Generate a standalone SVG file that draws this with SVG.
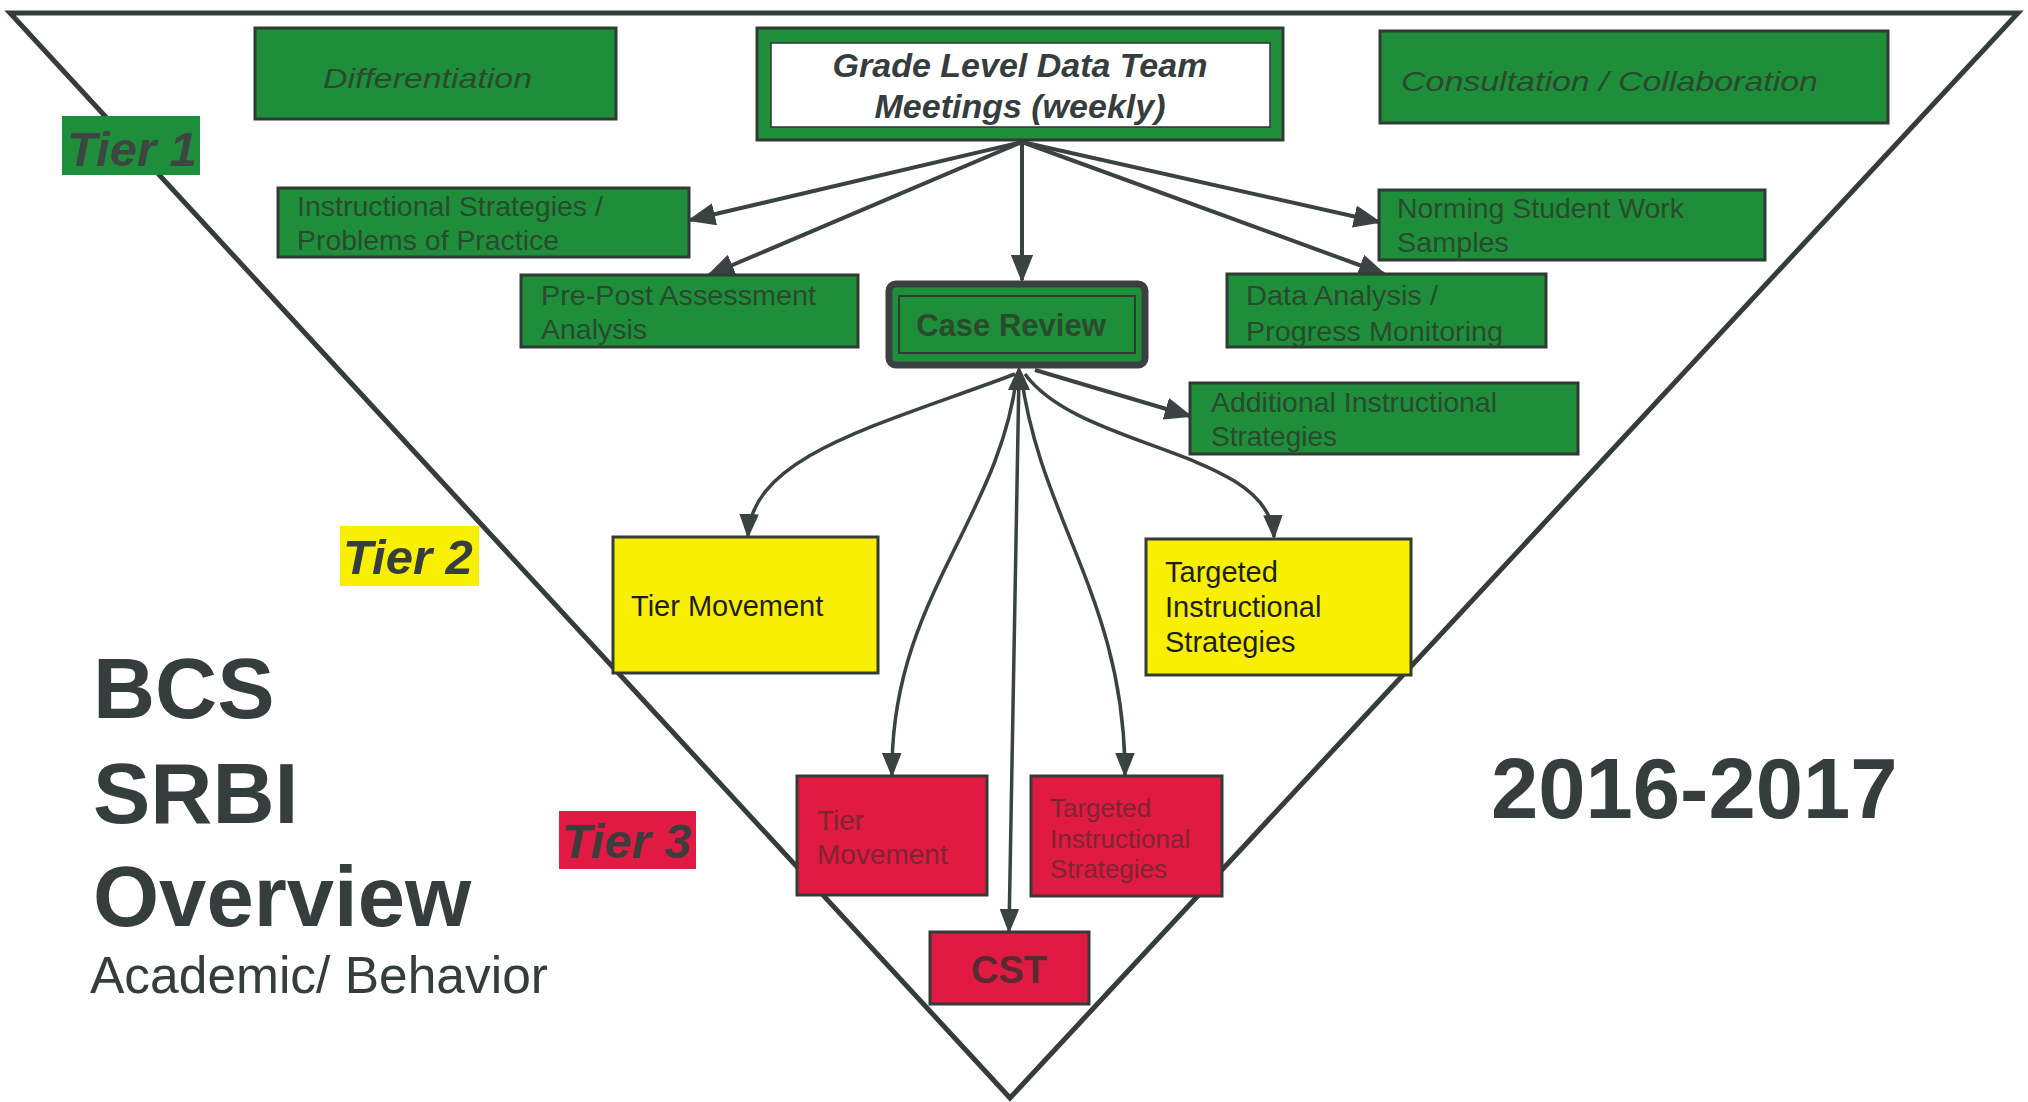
<svg xmlns="http://www.w3.org/2000/svg" width="2028" height="1102" viewBox="0 0 2028 1102">
<defs>
<style>
text{font-family:"Liberation Sans",Arial,sans-serif}
.g{fill:#1f8e3b;stroke:#2f3b33;stroke-width:3}
.y{fill:#f8f000;stroke:#353b38;stroke-width:3}
.r{fill:#e01a42;stroke:#353b38;stroke-width:3}
.gt{fill:#2a4a2e;font-size:28.5px}
.it{font-style:italic}
.dk{fill:#353d3d}
.yt{fill:#1e1e1e;font-size:29px}
.rt{fill:#7e2530}
.lab{font-size:49px;font-weight:bold;font-style:italic}
.con{fill:none;stroke:#3a4242;stroke-width:4;marker-end:url(#ah)}
.cur{fill:none;stroke:#3a4242;stroke-width:3.5;marker-end:url(#ah)}
</style>
<marker id="ah" viewBox="0 0 10 8" refX="9" refY="4" markerWidth="7" markerHeight="5.6" orient="auto" markerUnits="strokeWidth">
<path d="M0,0 L10,4 L0,8 z" fill="#3a4242"/>
</marker>
</defs>
<rect width="2028" height="1102" fill="#ffffff"/>
<g id="triangle">
<polygon points="10,13 2018,13 1010,1098" fill="none" stroke="#343c3c" stroke-width="5" stroke-linejoin="miter"/>
</g>
<g id="title">
<text x="93" y="718" font-size="86" font-weight="bold" class="dk">BCS</text>
<text x="93" y="823" font-size="86" font-weight="bold" class="dk">SRBI</text>
<text x="93" y="926" font-size="85" font-weight="bold" class="dk">Overview</text>
<text x="90" y="993" font-size="51.5" class="dk">Academic/ Behavior</text>
</g>
<g id="year">
<text x="1491" y="818" font-size="85" font-weight="bold" class="dk">2016-2017</text>
</g>
<g id="tier1-label">
<rect x="62" y="116" width="138" height="59" fill="#1f8e3b"/>
<text x="67" y="166" class="lab" fill="#3d4640">Tier 1</text>
</g>
<g id="tier2-label">
<rect x="340" y="526" width="139" height="60" fill="#f8f000"/>
<text x="343" y="574" class="lab dk" font-size="50">Tier 2</text>
</g>
<g id="tier3-label">
<rect x="559" y="811" width="137" height="58" fill="#e01a42"/>
<text x="562" y="858" class="lab" fill="#3d3d3d">Tier 3</text>
</g>
<g id="connectors">
<path class="con" d="M1022,142 L690,220"/>
<path class="con" d="M1022,142 L709,275"/>
<path class="con" d="M1022,142 L1022,280"/>
<path class="con" d="M1022,142 L1379,222"/>
<path class="con" d="M1022,142 L1384,274"/>
<path class="con" d="M1035,370 L1190,416"/>
<path class="cur" d="M1015,374 C880,425 752,455 748,536"/>
<path class="cur" d="M1025,374 C1080,450 1270,450 1274,537"/>
<path class="cur" d="M1017,374 C1000,520 890,600 892,775"/>
<path class="cur" d="M1021,374 C1040,520 1125,600 1125,775"/>
<path class="cur" d="M1019,374 L1009,931"/>
<polygon points="1019,366 1008,390 1030,390" fill="#3a4242"/>
</g>
<g id="differentiation">
<rect class="g" x="255" y="28" width="361" height="91"/>
<text x="323" y="88" class="gt it" font-size="39" textLength="209" lengthAdjust="spacingAndGlyphs">Differentiation</text>
</g>
<g id="grade-level">
<rect class="g" x="757" y="28" width="526" height="112"/>
<rect x="771" y="43" width="499" height="84" fill="#ffffff" stroke="#333" stroke-width="1.5"/>
<text x="1020" y="77" text-anchor="middle" font-size="34" font-weight="bold" font-style="italic" class="dk">Grade Level Data Team</text>
<text x="1020" y="118" text-anchor="middle" font-size="34" font-weight="bold" font-style="italic" class="dk">Meetings (weekly)</text>
</g>
<g id="consultation">
<rect class="g" x="1380" y="31" width="508" height="92"/>
<text x="1401" y="91" class="gt it" font-size="39" textLength="417" lengthAdjust="spacingAndGlyphs">Consultation / Collaboration</text>
</g>
<g id="instructional-strategies">
<rect class="g" x="278" y="188" width="411" height="69"/>
<text x="297" y="216" class="gt" textLength="306" lengthAdjust="spacingAndGlyphs">Instructional Strategies /</text>
<text x="297" y="250" class="gt" textLength="262" lengthAdjust="spacingAndGlyphs">Problems of Practice</text>
</g>
<g id="pre-post">
<rect class="g" x="521" y="275" width="337" height="72"/>
<text x="541" y="305" class="gt" textLength="275" lengthAdjust="spacingAndGlyphs">Pre-Post Assessment</text>
<text x="541" y="339" class="gt" textLength="106" lengthAdjust="spacingAndGlyphs">Analysis</text>
</g>
<g id="case-review">
<rect x="889" y="284" width="256" height="81" rx="7" fill="#1f8e3b" stroke="#3a4040" stroke-width="7"/>
<rect x="899" y="296" width="236" height="57" fill="none" stroke="#2f3b33" stroke-width="2"/>
<text x="1011" y="336" text-anchor="middle" font-size="31" font-weight="bold" fill="#2a4a2e">Case Review</text>
</g>
<g id="norming">
<rect class="g" x="1379" y="190" width="386" height="70"/>
<text x="1397" y="218" class="gt" textLength="287" lengthAdjust="spacingAndGlyphs">Norming Student Work</text>
<text x="1397" y="252" class="gt" textLength="112" lengthAdjust="spacingAndGlyphs">Samples</text>
</g>
<g id="data-analysis">
<rect class="g" x="1227" y="274" width="319" height="73"/>
<text x="1246" y="305" class="gt" textLength="192" lengthAdjust="spacingAndGlyphs">Data Analysis /</text>
<text x="1246" y="341" class="gt" textLength="257" lengthAdjust="spacingAndGlyphs">Progress Monitoring</text>
</g>
<g id="additional">
<rect class="g" x="1190" y="383" width="388" height="71"/>
<text x="1211" y="412" class="gt" textLength="286" lengthAdjust="spacingAndGlyphs">Additional Instructional</text>
<text x="1211" y="446" class="gt" textLength="126" lengthAdjust="spacingAndGlyphs">Strategies</text>
</g>
<g id="tier2-movement">
<rect class="y" x="613" y="537" width="265" height="136"/>
<text x="631" y="616" class="yt">Tier Movement</text>
</g>
<g id="tier2-targeted">
<rect class="y" x="1146" y="539" width="265" height="136"/>
<text x="1165" y="582" class="yt">Targeted</text>
<text x="1165" y="617" class="yt">Instructional</text>
<text x="1165" y="652" class="yt">Strategies</text>
</g>
<g id="tier3-movement">
<rect class="r" x="797" y="776" width="190" height="119"/>
<text x="817" y="830" font-size="28" class="rt">Tier</text>
<text x="817" y="864" font-size="28" class="rt">Movement</text>
</g>
<g id="tier3-targeted">
<rect class="r" x="1031" y="776" width="191" height="120"/>
<text x="1050" y="817" font-size="26" class="rt">Targeted</text>
<text x="1050" y="848" font-size="26" class="rt">Instructional</text>
<text x="1050" y="878" font-size="26" class="rt">Strategies</text>
</g>
<g id="cst">
<rect class="r" x="930" y="932" width="159" height="72"/>
<text x="1009" y="983" text-anchor="middle" font-size="38" font-weight="bold" fill="#5a2a30">CST</text>
</g>
</svg>
